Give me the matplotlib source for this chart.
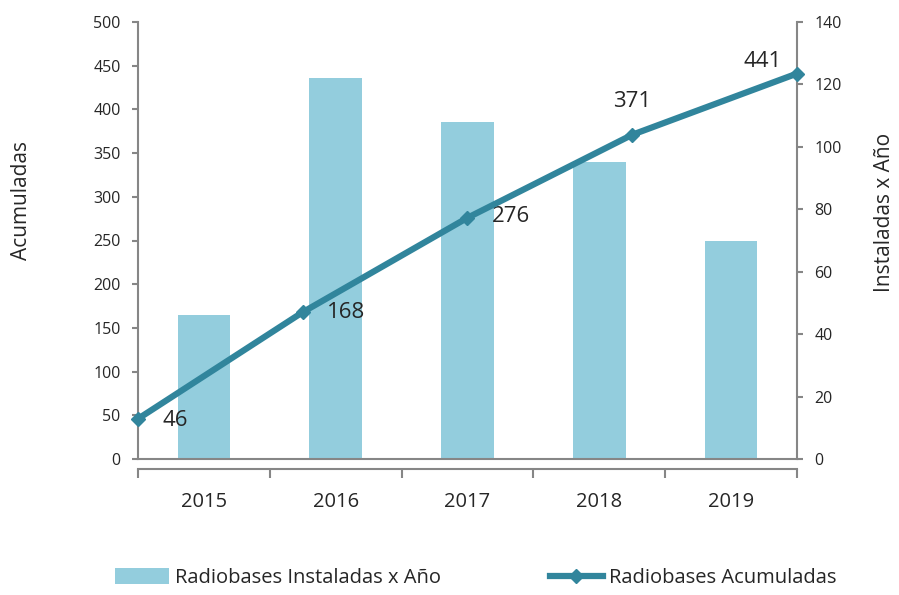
import matplotlib
matplotlib.use('Agg')
from matplotlib import pyplot as plt
from matplotlib.lines import Line2D
from matplotlib.patches import Patch
import numpy as np

plt.rcParams['font.family'] = ['Open Sans', 'DejaVu Sans']

# datos
anios = ['2015', '2016', '2017', '2018', '2019']
instaladas = [46, 122, 108, 95, 70]        # eje derecho (barras)
acumuladas = [46, 168, 276, 371, 441]      # eje izquierdo (linea)

color_barra = '#93CDDD'
color_linea = '#31859C'
gris = '#868686'
texto = '#262626'

fig = plt.figure(figsize=(8.99, 5.95), dpi=100)
rect = [138 / 899, 1 - 459 / 595, (797 - 138) / 899, (459 - 22) / 595]

# barras -> eje derecho
ax = fig.add_axes(rect)
x = np.arange(len(anios))
ax.bar(x, instaladas, width=0.4, color=color_barra, zorder=1)
ax.set_xlim(-0.5, len(anios) - 0.5)
ax.set_ylim(0, 140)
ax.set_yticks(np.arange(0, 141, 20))
ax.yaxis.tick_right()
ax.spines['left'].set_visible(False)
ax.spines['top'].set_visible(False)
ax.spines['right'].set_color(gris)
ax.spines['bottom'].set_color(gris)
ax.spines['right'].set_linewidth(1.5)
ax.spines['bottom'].set_linewidth(1.5)
ax.spines['bottom'].set_position(('outward', 7))
ax.set_xticks(x)
ax.set_xticklabels(anios)
ax.set_xticks(np.arange(-0.5, len(anios)), minor=True)
ax.tick_params(axis='x', which='major', length=0, pad=17, labelsize=14.5, labelcolor=texto)
ax.tick_params(axis='x', which='minor', length=6.5, width=1.5, color=gris, direction='out')
ax.tick_params(axis='y', which='major', length=4.5, width=1.5, color=gris, pad=8,
               labelsize=11.5, labelcolor=texto, right=True, left=False)

# linea -> eje izquierdo
axl = fig.add_axes(rect)
axl.patch.set_visible(False)
xl = np.arange(len(anios))
axl.plot(xl, acumuladas, color=color_linea, lw=4.5, marker='D', ms=7,
         solid_capstyle='butt', clip_on=False, zorder=5)
axl.set_xlim(0, len(anios) - 1)
axl.set_ylim(0, 500)
axl.set_yticks(np.arange(0, 501, 50))
axl.set_xticks([])
axl.spines['top'].set_visible(False)
axl.spines['right'].set_visible(False)
axl.spines['left'].set_color(gris)
axl.spines['bottom'].set_color(gris)
axl.spines['left'].set_linewidth(1.5)
axl.spines['bottom'].set_linewidth(1.5)
axl.tick_params(axis='y', length=4.5, width=1.5, color=gris, pad=8,
                labelsize=11.5, labelcolor=texto)

# etiquetas de datos
offsets = [(27, -1), (31, 0), (31, 1), (0, 24), (-25, 9)]
for xi, v, off in zip(xl, acumuladas, offsets):
    axl.annotate(str(v), (xi, v), xytext=off, textcoords='offset points',
                 ha='center', va='center', fontsize=16, color=texto)

fig.text(22 / 899, 1 - 200 / 595, 'Acumuladas', rotation=90, ha='center', va='center',
         fontsize=15, color=texto)
fig.text(885 / 899, 1 - 212 / 595, 'Instaladas x Año', rotation=90, ha='center', va='center',
         fontsize=15, color=texto)

handles = [Patch(facecolor=color_barra, edgecolor='none'),
           Line2D([], [], color=color_linea, lw=4.5, marker='D', ms=7)]
fig.legend(handles, ['Radiobases Instaladas x Año', 'Radiobases Acumuladas'],
           loc='center', bbox_to_anchor=(476 / 899, 1 - 578 / 595), ncol=2,
           frameon=False, fontsize=14.5, handlelength=2.65, handleheight=0.8,
           handletextpad=0.3, columnspacing=5.4, labelcolor=texto)

fig.savefig('out.png', dpi=100)
